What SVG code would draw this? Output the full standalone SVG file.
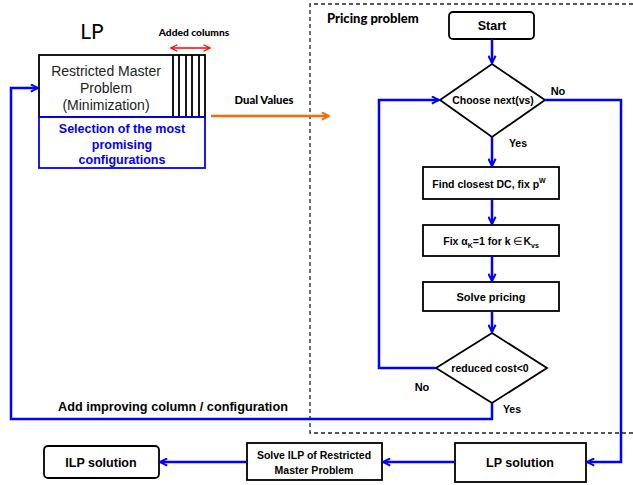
<svg xmlns="http://www.w3.org/2000/svg" width="633" height="485" viewBox="0 0 633 485">
<style>
.b{fill:none;stroke:#000;stroke-width:1.8}
.bl{fill:none;stroke:#0000ff;stroke-width:2.5}
.t{font-family:"Liberation Sans",Arial,sans-serif;font-weight:bold;fill:#000;text-anchor:middle}
.c{font-family:Lato,"Liberation Sans",sans-serif;font-weight:900;fill:#000}
</style>
<defs>
<marker id="ab" viewBox="0 0 10 10" refX="9" refY="5" markerWidth="9" markerHeight="9" markerUnits="userSpaceOnUse" orient="auto"><path d="M1,1 L9,5 L1,9" fill="none" stroke="#0000ff" stroke-width="2.2"/></marker>
<marker id="ao" viewBox="0 0 10 10" refX="9" refY="5" markerWidth="9" markerHeight="9" markerUnits="userSpaceOnUse" orient="auto"><path d="M1,1 L9,5 L1,9" fill="none" stroke="#ff6600" stroke-width="2.2"/></marker>
<marker id="ar" viewBox="0 0 10 10" refX="9" refY="5" markerWidth="8" markerHeight="8" markerUnits="userSpaceOnUse" orient="auto-start-reverse"><path d="M1,1 L9,5 L1,9" fill="none" stroke="#ff0000" stroke-width="1.6"/></marker>
</defs>

<path d="M640,4 H310 V433 H640" fill="none" stroke="#222" stroke-width="1.3" stroke-dasharray="4,3"/>
<text class="c" x="327" y="23" font-size="13">Pricing problem</text>

<g id="lp">
<text x="92" y="39" font-family="Lato,'Liberation Sans',sans-serif" font-size="21" text-anchor="middle">LP</text>
<text class="c" x="194" y="36" font-size="10.2" text-anchor="middle">Added columns</text>
<path d="M171,48 H210" stroke="#ff0000" stroke-width="1.5" marker-start="url(#ar)" marker-end="url(#ar)"/>
</g>

<g id="rmp">
<rect x="39" y="55" width="166" height="62" class="b"/>
<path d="M173,55 V117 M179,55 V117 M186,55 V117 M192,55 V117 M199,55 V117" stroke="#000" stroke-width="1.8"/>
<text font-family="'Liberation Sans',Arial,sans-serif" font-size="14" text-anchor="middle" fill="#222"><tspan x="106" y="76">Restricted Master</tspan><tspan x="106" y="93">Problem</tspan><tspan x="106" y="110">(Minimization)</tspan></text>
</g>

<g id="selection">
<rect x="39" y="117" width="166" height="51" fill="none" stroke="#0000ff" stroke-width="1.8"/>
<text class="t" font-size="12.5" style="fill:#0000ff"><tspan x="122" y="133">Selection of the most</tspan><tspan x="122" y="149">promising</tspan><tspan x="122" y="164">configurations</tspan></text>
</g>

<g id="dual">
<text class="c" x="264" y="104" font-size="11.3" text-anchor="middle">Dual Values</text>
</g>

<g id="start">
<rect x="449" y="12" width="85" height="27" rx="4" class="b"/>
<text class="t" x="492" y="30" font-size="12.5">Start</text>
</g>

<g id="choose">
<path d="M492,64 L545,100 L492,137 L440,100 Z" class="b"/>
<text class="t" x="493" y="104" font-size="10.5">Choose next(vs)</text>
</g>

<g id="find">
<rect x="423" y="167" width="136" height="32" class="b"/>
<text class="t" x="489" y="188" font-size="10.5">Find closest DC, fix p<tspan dy="-5" font-size="7">W</tspan></text>
</g>

<g id="fix">
<rect x="423" y="225" width="136" height="31" class="b"/>
<text class="t" x="491" y="245" font-size="10.5">Fix α<tspan dy="3" font-size="7">K</tspan><tspan dy="-3">=1 for k </tspan><tspan font-weight="normal">∈</tspan>K<tspan dy="3" font-size="7">vs</tspan></text>
</g>

<g id="solve">
<rect x="423" y="282" width="136" height="29" class="b"/>
<text class="t" x="491" y="301" font-size="11">Solve pricing</text>
</g>

<g id="reduced">
<path d="M492,333 L547,368 L492,403 L436,368 Z" class="b"/>
<text class="t" x="490" y="372" font-size="10.5">reduced cost&lt;0</text>
</g>

<g id="lpsol">
<rect x="455" y="443" width="131" height="39" class="b"/>
<text class="t" x="520" y="467" font-size="12.5">LP solution</text>
</g>

<g id="solveilp">
<rect x="247" y="443" width="135" height="37" class="b"/>
<text class="t" font-size="10.5"><tspan x="314" y="459">Solve ILP of Restricted</tspan><tspan x="314" y="474">Master Problem</tspan></text>
</g>

<g id="ilpsol">
<rect x="44" y="446" width="115" height="32" rx="4" class="b"/>
<text class="t" x="101" y="467" font-size="12.5">ILP solution</text>
</g>

<g id="connectors">
<path d="M211,116 H329" stroke="#ff6600" stroke-width="2.5" fill="none" marker-end="url(#ao)"/>
<path d="M492,39 V63" class="bl" marker-end="url(#ab)"/>
<path d="M492,137 V166" class="bl" marker-end="url(#ab)"/>
<path d="M492,199 V224" class="bl" marker-end="url(#ab)"/>
<path d="M492,256 V281" class="bl" marker-end="url(#ab)"/>
<path d="M492,311 V332" class="bl" marker-end="url(#ab)"/>
<path d="M436,368 H379 V100 H439" class="bl" marker-end="url(#ab)"/>
<path d="M545,100 H621 V462 H587" class="bl" marker-end="url(#ab)"/>
<path d="M492,403 V419 H11 V88 H38" class="bl" marker-end="url(#ab)"/>
<path d="M455,462 H383" class="bl" marker-end="url(#ab)"/>
<path d="M247,462 H160" class="bl" marker-end="url(#ab)"/>
<text class="t" x="558" y="95" font-size="11">No</text>
<text class="t" x="518" y="147" font-size="10.5">Yes</text>
<text class="t" x="422" y="391" font-size="11">No</text>
<text class="t" x="512" y="413" font-size="10.5">Yes</text>
<text class="t" x="173" y="411" font-size="12.7">Add improving column / configuration</text>
</g>
</svg>
